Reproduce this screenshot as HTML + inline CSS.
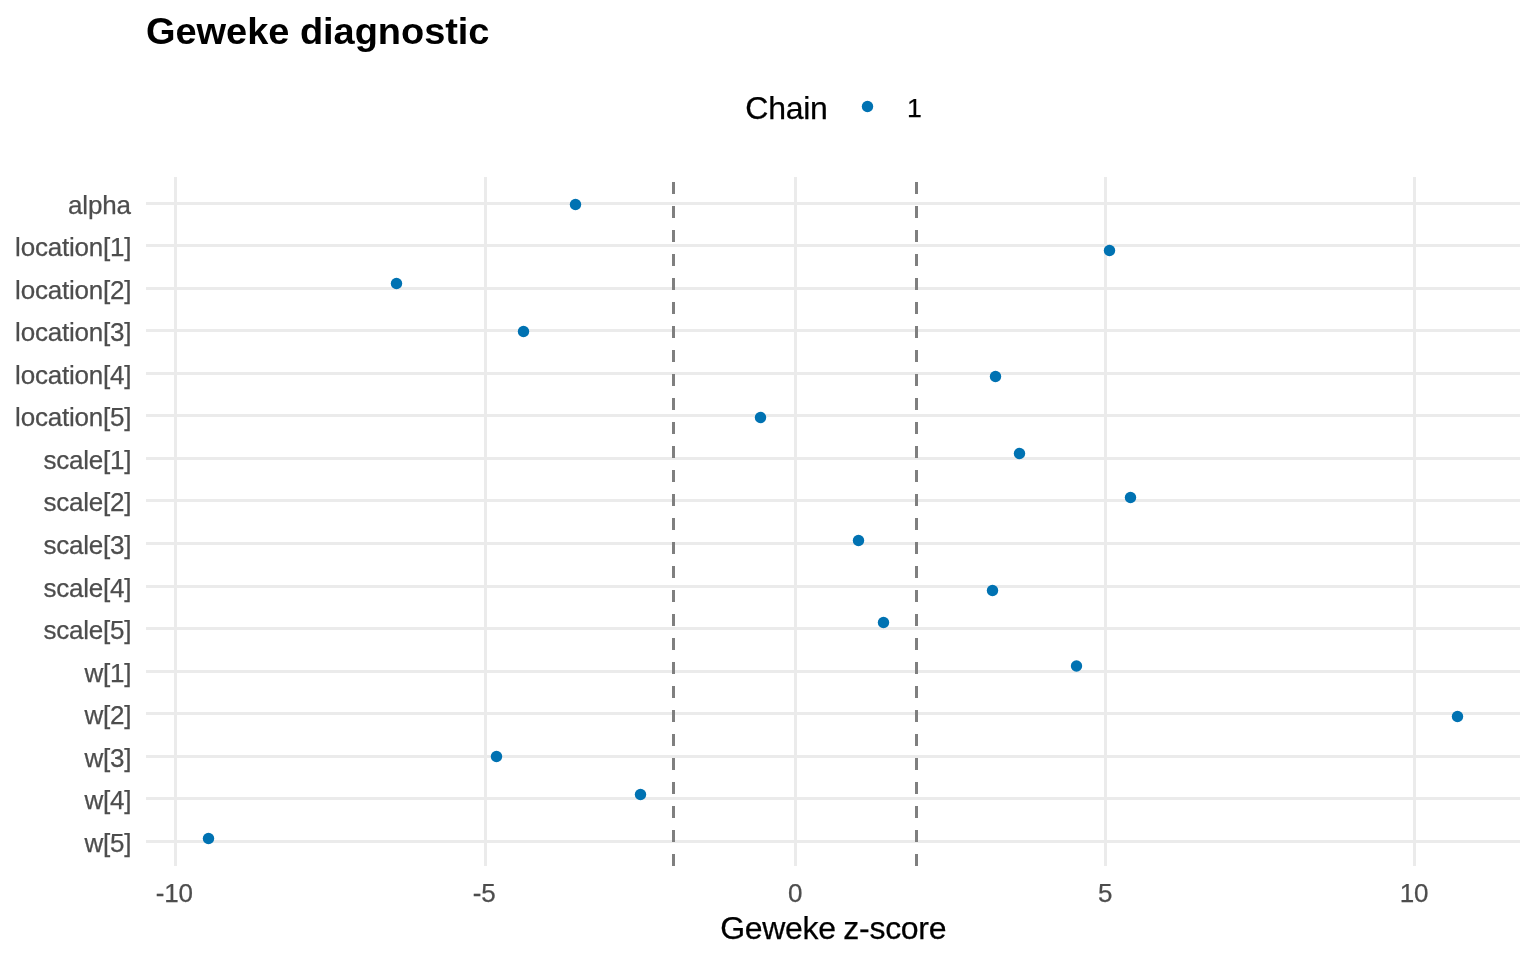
<!DOCTYPE html>
<html lang="en">
<head>
<meta charset="utf-8">
<title>Geweke diagnostic</title>
<style>
html,body{margin:0;padding:0;background:#fff;}
body{width:1536px;height:960px;overflow:hidden;}
svg{display:block;}
text{font-family:"Liberation Sans",sans-serif;}
.title{font-size:38px;font-weight:bold;fill:#000;letter-spacing:-0.04px;}
.axt{font-size:32px;fill:#000;letter-spacing:-0.3px;word-spacing:-1px;stroke:#000;stroke-width:0.25px;}
.legt{font-size:32px;fill:#000;letter-spacing:-0.25px;stroke:#000;stroke-width:0.25px;}
.legl{font-size:26.67px;fill:#000;stroke:#000;stroke-width:0.25px;}
.tick{font-size:26px;fill:#4d4d4d;letter-spacing:-0.2px;stroke:#4d4d4d;stroke-width:0.25px;}
.grid rect{fill:#ebebeb;}
.pts circle{fill:#0072b2;}
</style>
</head>
<body>
<svg width="1536" height="960" viewBox="0 0 1536 960">
<rect x="0" y="0" width="1536" height="960" fill="#ffffff"/>
<text class="title" transform="translate(146 43.6) scale(1 0.975)" x="0" y="0">Geweke diagnostic</text>
<text class="legt" x="745.3" y="118.5">Chain</text>
<circle cx="867.5" cy="106.5" r="5.7" fill="#0072b2"/>
<text class="legl" x="907" y="117">1</text>
<g class="grid" shape-rendering="crispEdges">
<rect x="146" y="202" width="1374" height="3"/>
<rect x="146" y="244" width="1374" height="3"/>
<rect x="146" y="287" width="1374" height="3"/>
<rect x="146" y="329" width="1374" height="3"/>
<rect x="146" y="372" width="1374" height="3"/>
<rect x="146" y="414" width="1374" height="3"/>
<rect x="146" y="457" width="1374" height="3"/>
<rect x="146" y="499" width="1374" height="3"/>
<rect x="146" y="542" width="1374" height="3"/>
<rect x="146" y="585" width="1374" height="3"/>
<rect x="146" y="627" width="1374" height="3"/>
<rect x="146" y="670" width="1374" height="3"/>
<rect x="146" y="712" width="1374" height="3"/>
<rect x="146" y="755" width="1374" height="3"/>
<rect x="146" y="797" width="1374" height="3"/>
<rect x="146" y="840" width="1374" height="3"/>
<rect x="174" y="177" width="3" height="689"/>
<rect x="484" y="177" width="3" height="689"/>
<rect x="794" y="177" width="3" height="689"/>
<rect x="1104" y="177" width="3" height="689"/>
<rect x="1413" y="177" width="3" height="689"/>
</g>
<g fill="#7f7f7f" shape-rendering="crispEdges">
<rect x="672" y="854" width="3" height="12"/><rect x="672" y="830" width="3" height="12"/><rect x="672" y="806" width="3" height="12"/><rect x="672" y="782" width="3" height="12"/><rect x="672" y="758" width="3" height="12"/><rect x="672" y="734" width="3" height="12"/><rect x="672" y="710" width="3" height="12"/><rect x="672" y="686" width="3" height="12"/><rect x="672" y="662" width="3" height="12"/><rect x="672" y="638" width="3" height="12"/><rect x="672" y="614" width="3" height="12"/><rect x="672" y="590" width="3" height="12"/><rect x="672" y="566" width="3" height="12"/><rect x="672" y="542" width="3" height="12"/><rect x="672" y="518" width="3" height="12"/><rect x="672" y="494" width="3" height="12"/><rect x="672" y="470" width="3" height="12"/><rect x="672" y="446" width="3" height="12"/><rect x="672" y="422" width="3" height="12"/><rect x="672" y="398" width="3" height="12"/><rect x="672" y="374" width="3" height="12"/><rect x="672" y="350" width="3" height="12"/><rect x="672" y="326" width="3" height="12"/><rect x="672" y="302" width="3" height="12"/><rect x="672" y="278" width="3" height="12"/><rect x="672" y="254" width="3" height="12"/><rect x="672" y="230" width="3" height="12"/><rect x="672" y="206" width="3" height="12"/><rect x="672" y="182" width="3" height="12"/>
<rect x="915" y="854" width="3" height="12"/><rect x="915" y="830" width="3" height="12"/><rect x="915" y="806" width="3" height="12"/><rect x="915" y="782" width="3" height="12"/><rect x="915" y="758" width="3" height="12"/><rect x="915" y="734" width="3" height="12"/><rect x="915" y="710" width="3" height="12"/><rect x="915" y="686" width="3" height="12"/><rect x="915" y="662" width="3" height="12"/><rect x="915" y="638" width="3" height="12"/><rect x="915" y="614" width="3" height="12"/><rect x="915" y="590" width="3" height="12"/><rect x="915" y="566" width="3" height="12"/><rect x="915" y="542" width="3" height="12"/><rect x="915" y="518" width="3" height="12"/><rect x="915" y="494" width="3" height="12"/><rect x="915" y="470" width="3" height="12"/><rect x="915" y="446" width="3" height="12"/><rect x="915" y="422" width="3" height="12"/><rect x="915" y="398" width="3" height="12"/><rect x="915" y="374" width="3" height="12"/><rect x="915" y="350" width="3" height="12"/><rect x="915" y="326" width="3" height="12"/><rect x="915" y="302" width="3" height="12"/><rect x="915" y="278" width="3" height="12"/><rect x="915" y="254" width="3" height="12"/><rect x="915" y="230" width="3" height="12"/><rect x="915" y="206" width="3" height="12"/><rect x="915" y="182" width="3" height="12"/>
</g>
<g class="pts">
<circle cx="575.5" cy="204.5" r="5.7"/>
<circle cx="1109.5" cy="250.5" r="5.7"/>
<circle cx="396.5" cy="283.5" r="5.7"/>
<circle cx="523.5" cy="331.5" r="5.7"/>
<circle cx="995.5" cy="376.5" r="5.7"/>
<circle cx="760.5" cy="417.5" r="5.7"/>
<circle cx="1019.5" cy="453.5" r="5.7"/>
<circle cx="1130.5" cy="497.5" r="5.7"/>
<circle cx="858.5" cy="540.5" r="5.7"/>
<circle cx="992.5" cy="590.5" r="5.7"/>
<circle cx="883.5" cy="622.5" r="5.7"/>
<circle cx="1076.5" cy="666.0" r="5.7"/>
<circle cx="1457.5" cy="716.5" r="5.7"/>
<circle cx="496.5" cy="756.5" r="5.7"/>
<circle cx="640.5" cy="794.5" r="5.7"/>
<circle cx="208.5" cy="838.5" r="5.7"/>
</g>
<g class="tick" text-anchor="end">
<text x="130.7" y="214.0">alpha</text>
<text x="131.4" y="256.0">location[1]</text>
<text x="131.4" y="299.0">location[2]</text>
<text x="131.4" y="341.0">location[3]</text>
<text x="131.4" y="384.0">location[4]</text>
<text x="131.4" y="426.0">location[5]</text>
<text x="131.4" y="469.0">scale[1]</text>
<text x="131.4" y="511.0">scale[2]</text>
<text x="131.4" y="554.0">scale[3]</text>
<text x="131.4" y="597.0">scale[4]</text>
<text x="131.4" y="639.0">scale[5]</text>
<text x="131.4" y="682.0">w[1]</text>
<text x="131.4" y="724.0">w[2]</text>
<text x="131.4" y="767.0">w[3]</text>
<text x="131.4" y="809.0">w[4]</text>
<text x="131.4" y="852.0">w[5]</text>
</g>
<g class="tick" text-anchor="middle">
<text x="174.2" y="901.6">-10</text>
<text x="484.2" y="901.6">-5</text>
<text x="795.1" y="901.6">0</text>
<text x="1105.1" y="901.6">5</text>
<text x="1414.1" y="901.6">10</text>
</g>
<text class="axt" text-anchor="middle" x="833.2" y="938.7">Geweke z-score</text>
</svg>
</body>
</html>
